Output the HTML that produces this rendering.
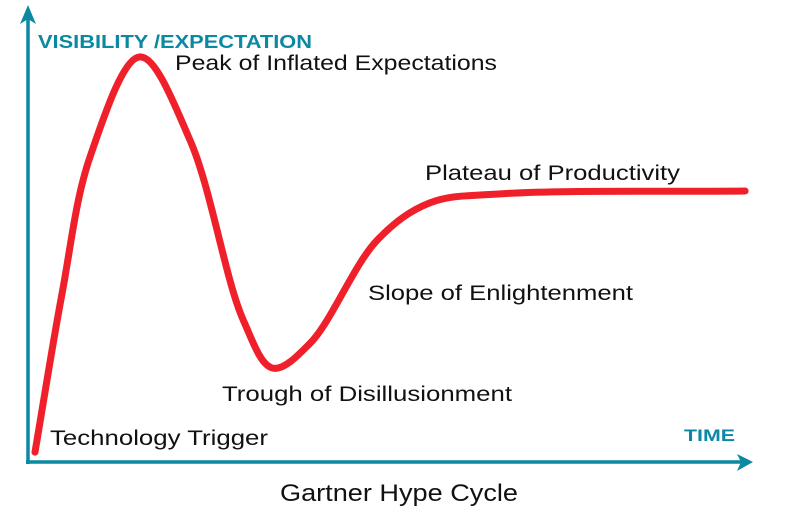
<!DOCTYPE html>
<html><head><meta charset="utf-8"><style>
html,body{margin:0;padding:0;background:#fff;}
svg{display:block;font-family:"Liberation Sans",sans-serif;}
</style></head><body>
<svg id="chart" width="785" height="516" viewBox="0 0 785 516">
<g>
<line x1="28" y1="464" x2="28" y2="16" stroke="#0b88a2" stroke-width="3.5"/>
<polygon points="28,5 20,24 28,19 36,24" fill="#0b88a2"/>
</g>
<g>
<line x1="26" y1="462" x2="742" y2="462" stroke="#0b88a2" stroke-width="3.5"/>
<polygon points="753,462 737,454 741,462 737,471" fill="#0b88a2"/>
</g>
<text x="38" y="48" font-size="18" font-weight="bold" fill="#0b88a2" textLength="274" lengthAdjust="spacingAndGlyphs">VISIBILITY /EXPECTATION</text>
<text x="684" y="441" font-size="17" font-weight="bold" fill="#0b88a2" textLength="51" lengthAdjust="spacingAndGlyphs">TIME</text>
<path id="curve" fill="none" stroke="#f0202a" stroke-width="7" stroke-linecap="round" stroke-linejoin="round"/>
<g font-size="21" fill="#111">
<text x="175" y="70" textLength="322" lengthAdjust="spacingAndGlyphs">Peak of Inflated Expectations</text>
<text x="425" y="180" textLength="255" lengthAdjust="spacingAndGlyphs">Plateau of Productivity</text>
<text x="368" y="300" textLength="265" lengthAdjust="spacingAndGlyphs">Slope of Enlightenment</text>
<text x="222" y="401" textLength="290" lengthAdjust="spacingAndGlyphs">Trough of Disillusionment</text>
<text x="50" y="445" textLength="218" lengthAdjust="spacingAndGlyphs">Technology Trigger</text>
</g>
<text x="280" y="501" font-size="24" fill="#111" textLength="238" lengthAdjust="spacingAndGlyphs">Gartner Hype Cycle</text>
</svg>
<script>
const timeValues = [0.97, 4.72, 8.61, 15.56, 22.5, 29.9, 34.0, 39.2, 48.5, 55.8, 65.6, 99.6];
const expectationValues = [2.4, 41.0, 74.4, 98.8, 78.5, 34.6, 22.9, 29.0, 54.1, 63.2, 65.4, 66.1];
function xScale(t){return 28 + t*7.2;}
function yScale(v){return 462 - v*4.1;}
const P = timeValues.map((t,i)=>[xScale(t), yScale(expectationValues[i])]);
const n = P.length;
function sub(a,b){return [a[0]-b[0],a[1]-b[1]];}
function add(a,b){return [a[0]+b[0],a[1]+b[1]];}
function mul(a,k){return [a[0]*k,a[1]*k];}
function dist(a,b){return Math.pow(Math.hypot(a[0]-b[0],a[1]-b[1]),0.5)||1e-6;}
let d = "M"+P[0][0]+","+P[0][1];
for(let i=0;i<n-1;i++){
  const p1=P[i], p2=P[i+1];
  const p0 = i>0 ? P[i-1] : sub(mul(p1,2),p2);
  const p3 = i<n-2 ? P[i+2] : sub(mul(p2,2),p1);
  const t01=dist(p0,p1), t12=dist(p1,p2), t23=dist(p2,p3);
  const m1 = add(sub(p2,p1), mul(sub(mul(sub(p1,p0),1/t01), mul(sub(p2,p0),1/(t01+t12))), t12));
  const m2 = add(sub(p2,p1), mul(sub(mul(sub(p3,p2),1/t23), mul(sub(p3,p1),1/(t12+t23))), t12));
  const c1 = add(p1, mul(m1,1/3)), c2 = sub(p2, mul(m2,1/3));
  d+=" C"+c1[0]+","+c1[1]+" "+c2[0]+","+c2[1]+" "+p2[0]+","+p2[1];
}
document.getElementById('curve').setAttribute('d', d);
</script>
</body></html>
